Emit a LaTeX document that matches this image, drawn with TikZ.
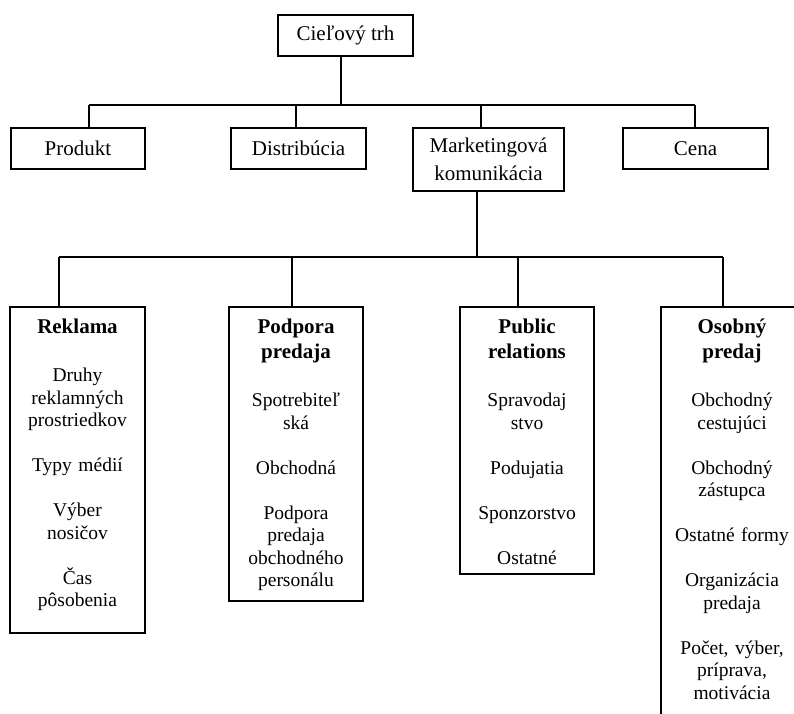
\documentclass[tikz,border=0pt]{standalone}
\usepackage{fontspec}
\setmainfont{Liberation Serif}
\usetikzlibrary{positioning}
\tikzset{
  topbox/.style={draw, line width=1.1pt, inner sep=0pt, outer sep=0pt, align=center, font=\fontsize{21}{28}\selectfont},
  colbox/.style={draw, line width=1.1pt, inner sep=0pt, outer sep=0pt, anchor=north west},
  headtext/.style={anchor=north, inner sep=0pt, text width=150pt, align=center, font=\bfseries\fontsize{21}{25}\selectfont},
  itemtext/.style={anchor=north, inner sep=0pt, text width=150pt, align=center, font=\fontsize{19.5}{22.5}\selectfont},
  link/.style={line width=1.1pt}
}

\begin{document}
\begin{tikzpicture}[x=1pt, y=-1pt]
\useasboundingbox (0,0) rectangle (794,713);
% upper level
\node[topbox, minimum width=135pt, minimum height=41pt] (cil) at (345.5,35.5) {Cieľový trh};
\node[topbox, minimum width=134pt, minimum height=41pt] (prod) at (78,148.5) {Produkt};
\node[topbox, minimum width=135pt, minimum height=41pt] (dist) at (298.5,148.5) {Distribúcia};
\node[topbox, minimum width=151pt, minimum height=63pt] (mark) at (488.5,159.5) {Marketingová\\komunikácia};
\node[topbox, minimum width=145pt, minimum height=41pt] (cena) at (695.5,148.5) {Cena};
% lower level
\node[colbox, minimum width=135pt, minimum height=326pt] (rek) at (10,307) {};
\node[colbox, minimum width=134pt, minimum height=294pt] (pod) at (229,307) {};
\node[colbox, minimum width=134pt, minimum height=267pt] (pr) at (460,307) {};
\node[colbox, minimum width=142pt, minimum height=430pt] (osp) at (661,307) {};
\node[headtext] (rekh) at ([yshift=-12pt]rek.north) {Reklama};
\node[headtext] (podh) at ([yshift=-12pt]pod.north) {Podpora\\predaja};
\node[headtext] (prh) at ([yshift=-12pt]pr.north) {Public\\relations};
\node[headtext] (osph) at ([yshift=-12pt]osp.north) {Osobný\\predaj};
\node[itemtext] (reki) at ([yshift=-61pt]rek.north) {Druhy\\reklamných\\prostriedkov\\[22.5pt]Typy médií\\[22.5pt]Výber\\nosičov\\[22.5pt]Čas\\pôsobenia};
\node[itemtext] (podi) at ([yshift=-86pt]pod.north) {Spotrebiteľ\\ská\\[22.5pt]Obchodná\\[22.5pt]Podpora\\predaja\\obchodného\\personálu};
\node[itemtext] (pri) at ([yshift=-86pt]pr.north) {Spravodaj\\stvo\\[22.5pt]Podujatia\\[22.5pt]Sponzorstvo\\[22.5pt]Ostatné};
\node[itemtext] (ospi) at ([yshift=-86pt]osp.north) {Obchodný\\cestujúci\\[22.5pt]Obchodný\\zástupca\\[22.5pt]Ostatné formy\\[22.5pt]Organizácia\\predaja\\[22.5pt]Počet, výber,\\príprava,\\motivácia};
% connectors
\coordinate (j0) at (341,105);
\coordinate (j1) at (89,105);
\coordinate (j2) at (296,105);
\coordinate (j3) at (481,105);
\coordinate (j4) at (695,105);
\coordinate (k0) at (477,257);
\coordinate (k1) at (59,257);
\coordinate (k2) at (292,257);
\coordinate (k3) at (518,257);
\coordinate (k4) at (723,257);
\draw[link] (j0 |- cil.south) -- (j0);
\draw[link] (j1) -- (j4);
\foreach \j/\n in {j1/prod, j2/dist, j3/mark, j4/cena}
{
\draw[link] (\j) -- (\j |- \n.north);
}
\draw[link] (k0 |- mark.south) -- (k0);
\draw[link] (k1) -- (k4);
\foreach \k/\n in {k1/rek, k2/pod, k3/pr, k4/osp}
{
\draw[link] (\k) -- (\k |- \n.north);
}
\end{tikzpicture}
\end{document}
